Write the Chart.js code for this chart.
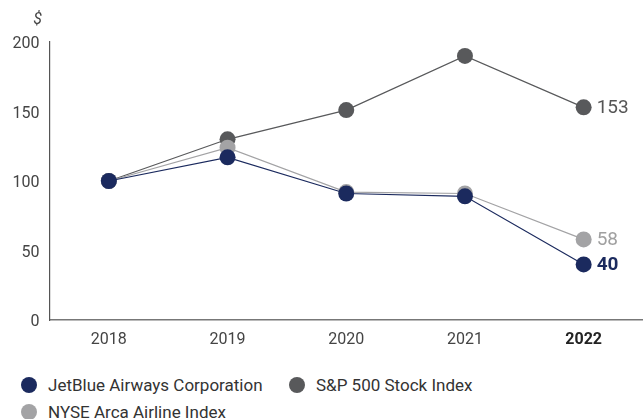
<!DOCTYPE html>
<html>
<head>
<meta charset="utf-8">
<script src="https://cdn.jsdelivr.net/npm/chart.js@4"></script>
<style>
  html, body { margin: 0; padding: 0; background: #fff; }
  #wrap { position: relative; width: 643px; height: 419px; font-family: Roboto, sans-serif; }
  #chart-box { position: absolute; left: 0; top: 0; width: 643px; height: 360px; }
  .legend-item { position: absolute; display: flex; align-items: center; font-size: 17px; color: #333; white-space: nowrap; }
  .legend-dot { width: 16px; height: 16px; border-radius: 50%; margin-right: 11px; }
</style>
</head>
<body>
<div id="wrap">
  <div id="chart-box"><canvas id="tsr-chart"></canvas></div>
  <div id="legend"></div>
</div>
<script>
// 데이터
const years = ['2018', '2019', '2020', '2021', '2022'];
const jetblue = [100, 117, 91, 89, 40];
const nyseArca = [100, 124, 92, 91, 58];
const sp500 = [100, 130, 151, 190, 153];
const yTicks = [0, 50, 100, 150, 200];

const NAVY = '#1b2a5e';
const DARK = '#58595b';
const LIGHT = '#a3a3a5';

// 마지막 값 라벨 + "$" 표시
const endLabels = {
    id: 'endLabels',
    afterDatasetsDraw(chart) {
        const ctx = chart.ctx;
        ctx.save();
        ctx.textBaseline = 'middle';
        ctx.textAlign = 'left';
        chart.data.datasets.forEach((ds, i) => {
            const meta = chart.getDatasetMeta(i);
            const pt = meta.data[meta.data.length - 1];
            ctx.fillStyle = ds.labelColor;
            ctx.font = (ds.labelBold ? 'bold ' : '') + '19px Roboto, sans-serif';
            ctx.fillText(ds.data[ds.data.length - 1], pt.x + 13, pt.y + 1);
        });
        const area = chart.chartArea;
        ctx.fillStyle = '#444';
        ctx.font = 'italic 16px Roboto, sans-serif';
        ctx.textAlign = 'center';
        ctx.fillText('$', area.left - 12, area.top - 22);
        ctx.restore();
    }
};

const chart = new Chart(document.getElementById('tsr-chart').getContext('2d'), {
    type: 'line',
    data: {
        labels: years,
        datasets: [
            { label: 'JetBlue Airways Corporation', data: jetblue, borderColor: NAVY, backgroundColor: NAVY, labelColor: NAVY, labelBold: true },
            { label: 'NYSE Arca Airline Index', data: nyseArca, borderColor: LIGHT, backgroundColor: LIGHT, labelColor: '#a0a0a0' },
            { label: 'S&P 500 Stock Index', data: sp500, borderColor: DARK, backgroundColor: DARK, labelColor: '#555' }
        ].map(ds => Object.assign(ds, {
            borderWidth: 1.2,
            pointRadius: 8,
            pointHoverRadius: 8,
            pointBorderWidth: 0,
            tension: 0,
            fill: false
        }))
    },
    options: {
        responsive: true,
        maintainAspectRatio: false,
        animation: false,
        layout: { autoPadding: false, padding: { top: 42, left: 0, right: 0, bottom: 0 } },
        plugins: {
            legend: { display: false },
            tooltip: { enabled: false }
        },
        scales: {
            x: {
                offset: true,
                grid: { display: false, drawTicks: false },
                border: { display: true, color: '#777', width: 1.5 },
                afterFit(scale) { scale.height = 40; },
                ticks: {
                    padding: 10,
                    color: ctx => ctx.index === 4 ? '#222' : '#444',
                    font: ctx => ({ family: 'Roboto, sans-serif', size: 16, weight: ctx.index === 4 ? 'bold' : 'normal' })
                }
            },
            y: {
                min: 0,
                max: 200,
                afterBuildTicks(scale) { scale.ticks = yTicks.map(v => ({ value: v })); },
                afterFit(scale) { scale.width = 49.5; },
                grid: { display: false, drawTicks: false },
                border: { display: true, color: '#555', width: 1.2 },
                ticks: {
                    padding: 10,
                    labelOffset: 2,
                    color: '#444',
                    font: { family: 'Roboto, sans-serif', size: 16 }
                }
            }
        }
    },
    plugins: [endLabels]
});

// HTML 범례
const legendItems = [
    { text: 'JetBlue Airways Corporation', color: NAVY, left: 21, top: 375 },
    { text: 'S&P 500 Stock Index', color: DARK, left: 289, top: 375 },
    { text: 'NYSE Arca Airline Index', color: LIGHT, left: 21, top: 402 }
];
const legendEl = document.getElementById('legend');
legendItems.forEach(item => {
    const el = document.createElement('div');
    el.className = 'legend-item';
    el.style.left = item.left + 'px';
    el.style.top = item.top + 'px';
    el.innerHTML = '<span class="legend-dot" style="background:' + item.color + '"></span>' + item.text.replace('&', '&amp;');
    legendEl.appendChild(el);
});
</script>
</body>
</html>
